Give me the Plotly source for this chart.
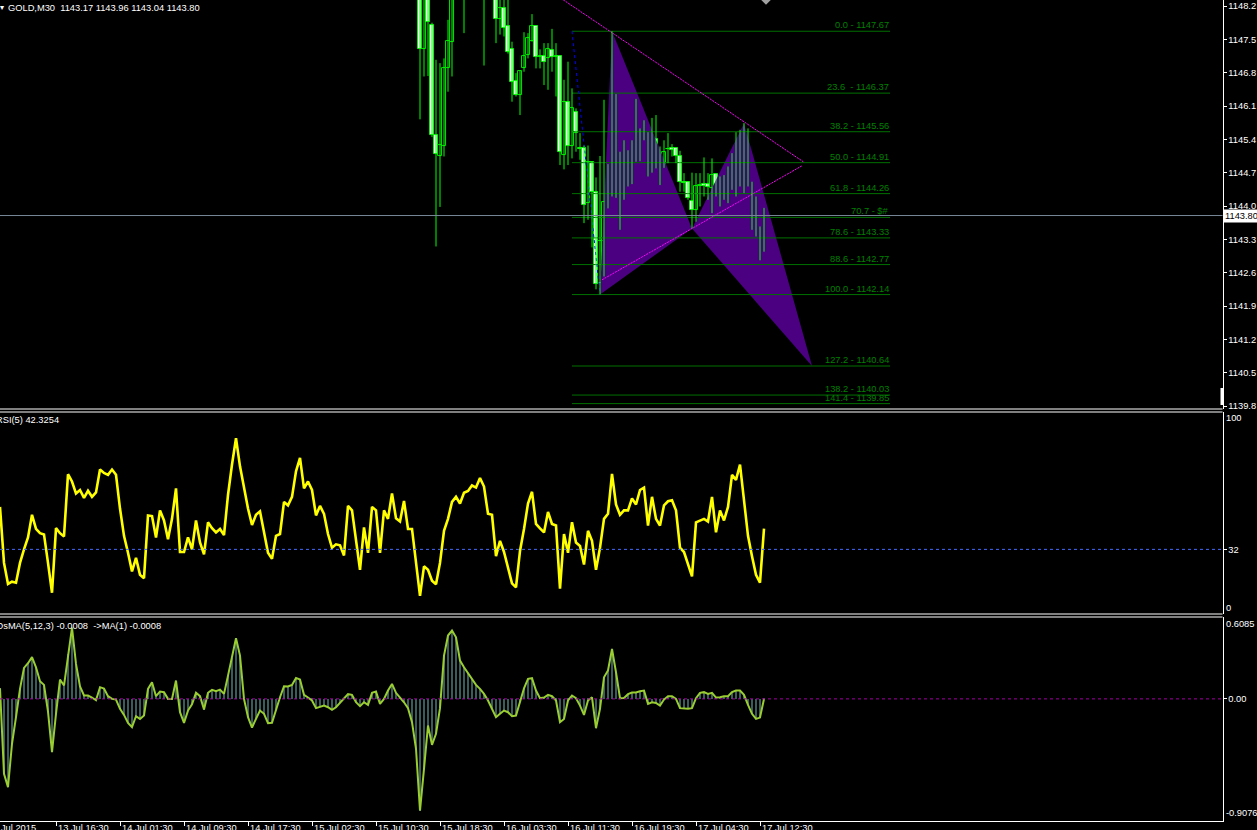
import plotly.graph_objects as go

# ---------------- data ----------------
bar_index = list(range(192))

candle_index = list(range(105, 192))
candle_open = [1148.60, 1147.29, 1148.50, 1147.80, 1145.49, 1145.04, 1145.25, 1146.89, 1147.45, 1148.40,
               1148.70, 1148.80, 1148.60, 1148.70, 1148.90, 1149.00, 1148.70, 1148.50, 1148.60, 1148.45,
               1147.92, 1148.15, 1147.77, 1147.29, 1146.63, 1146.34, 1146.89, 1147.17, 1147.47, 1147.77,
               1147.12, 1147.14, 1147.10, 1147.28, 1147.12, 1147.15, 1145.07, 1146.18, 1145.26, 1145.97,
               1145.21, 1145.21, 1144.06, 1144.93, 1144.30, 1142.38, 1143.27, 1144.09, 1144.37, 1146.16,
               1145.04, 1144.64, 1144.79, 1144.72, 1145.21, 1145.44, 1145.55, 1145.38, 1144.79, 1145.40,
               1144.83, 1144.85, 1145.19, 1145.21, 1145.21, 1145.05, 1144.51, 1144.51, 1144.11, 1143.92,
               1144.42, 1144.46, 1144.46, 1144.37, 1144.67, 1144.30, 1144.46, 1144.41, 1144.49, 1144.90,
               1144.86, 1145.14, 1144.72, 1144.46, 1143.76, 1143.34, 1143.17]
candle_high = [1148.80, 1148.70, 1148.70, 1147.85, 1147.07, 1147.00, 1147.10, 1147.91, 1148.60, 1148.90,
               1149.00, 1149.00, 1148.90, 1149.10, 1149.20, 1149.10, 1148.90, 1148.80, 1148.80, 1148.60,
               1148.40, 1148.40, 1148.40, 1147.45, 1146.79, 1146.84, 1147.65, 1147.63, 1148.03, 1147.77,
               1147.29, 1147.42, 1147.42, 1147.72, 1147.42, 1147.17, 1146.65, 1147.03, 1146.47, 1146.05,
               1145.53, 1145.27, 1145.27, 1144.94, 1144.60, 1145.05, 1146.23, 1144.88, 1147.67, 1146.35,
               1145.14, 1145.38, 1145.17, 1145.38, 1146.25, 1145.63, 1145.80, 1145.55, 1145.85, 1145.91,
               1145.25, 1145.38, 1145.53, 1145.30, 1145.21, 1145.16, 1144.69, 1144.51, 1144.70, 1144.69,
               1144.69, 1145.02, 1144.69, 1145.00, 1144.69, 1144.62, 1144.65, 1144.83, 1145.11, 1145.55,
               1145.60, 1145.74, 1145.63, 1144.51, 1144.20, 1143.57, 1143.96]
candle_low = [1145.82, 1146.72, 1146.73, 1145.45, 1143.15, 1143.98, 1145.04, 1146.40, 1146.72, 1148.35,
              1148.40, 1147.63, 1148.40, 1148.50, 1148.60, 1148.50, 1146.95, 1148.35, 1148.36, 1147.42,
              1147.60, 1147.56, 1147.20, 1146.19, 1146.30, 1145.91, 1146.82, 1147.10, 1147.45, 1146.89,
              1146.89, 1146.54, 1146.44, 1146.82, 1146.30, 1144.86, 1144.77, 1144.86, 1145.00, 1145.14,
              1144.97, 1143.64, 1143.71, 1143.13, 1142.25, 1142.14, 1142.52, 1143.95, 1144.20, 1144.17,
              1143.50, 1144.13, 1144.41, 1144.46, 1144.93, 1144.94, 1145.38, 1144.62, 1144.70, 1144.79,
              1144.44, 1144.80, 1144.90, 1145.04, 1144.90, 1144.30, 1144.30, 1144.13, 1143.53, 1143.67,
              1143.99, 1144.20, 1144.13, 1143.85, 1144.20, 1143.99, 1144.13, 1144.06, 1144.34, 1144.20,
              1144.41, 1144.27, 1144.41, 1143.50, 1143.36, 1142.86, 1143.04]
candle_close = [1147.29, 1148.50, 1147.87, 1145.50, 1145.09, 1145.28, 1146.89, 1147.46, 1148.40, 1148.70,
                1148.80, 1148.60, 1148.70, 1148.90, 1149.00, 1148.70, 1148.50, 1148.60, 1148.45, 1147.92,
                1148.15, 1147.73, 1147.24, 1146.61, 1146.34, 1146.84, 1147.16, 1147.52, 1147.77, 1147.12,
                1147.16, 1147.03, 1147.29, 1147.12, 1147.15, 1145.14, 1146.18, 1145.25, 1146.05, 1145.54,
                1145.19, 1144.02, 1144.92, 1144.29, 1142.36, 1143.27, 1144.09, 1144.18, 1146.14, 1145.07,
                1144.64, 1144.79, 1144.78, 1145.20, 1144.98, 1145.04, 1145.44, 1144.79, 1145.40, 1144.83,
                1144.79, 1145.14, 1145.20, 1145.18, 1145.05, 1144.51, 1144.48, 1144.16, 1143.92, 1144.42,
                1144.44, 1144.41, 1144.39, 1144.65, 1144.28, 1144.55, 1144.39, 1144.50, 1144.90, 1144.83,
                1145.18, 1144.72, 1144.46, 1143.85, 1143.39, 1143.13, 1143.80]

rsi_values = [53.0, 25.3, 14.9, 16.0, 15.5, 25.3, 32.0, 37.9, 49.1, 42.1,
              40.0, 39.4, 25.3, 10.5, 42.5, 40.0, 38.4, 69.2, 65.6, 59.7,
              61.4, 57.5, 61.0, 58.0, 60.2, 71.5, 69.8, 68.9, 71.5, 68.9,
              52.2, 38.7, 30.3, 21.1, 27.8, 19.4, 17.7, 48.8, 48.5, 37.9,
              51.3, 46.3, 37.0, 47.1, 62.2, 30.7, 30.7, 37.9, 32.0, 46.3,
              35.4, 29.5, 45.4, 42.5, 40.4, 42.1, 39.1, 58.9, 74.0, 87.0,
              73.1, 62.2, 52.2, 44.1, 49.1, 50.8, 41.2, 30.3, 27.3, 38.7,
              39.6, 55.5, 53.8, 58.0, 70.6, 77.3, 62.2, 65.6, 61.4, 48.8,
              53.5, 49.6, 39.6, 32.8, 34.5, 34.0, 29.0, 53.5, 51.3, 37.0,
              21.9, 42.9, 30.3, 53.0, 51.3, 30.3, 51.3, 47.1, 59.7, 47.4,
              45.8, 56.0, 42.1, 42.1, 25.3, 9.0, 23.6, 21.9, 16.5, 14.7,
              25.3, 41.2, 47.1, 55.5, 58.0, 54.7, 60.0, 60.9, 63.6, 62.6,
              67.3, 63.1, 49.6, 49.1, 28.6, 36.2, 30.7, 22.8, 15.2, 13.2,
              31.2, 42.1, 54.7, 60.5, 44.6, 42.4, 40.4, 50.5, 44.6, 43.8,
              12.5, 39.6, 30.3, 45.4, 35.4, 33.7, 24.5, 41.2, 36.2, 21.9,
              32.8, 47.1, 49.6, 69.4, 54.2, 49.1, 51.3, 51.3, 57.2, 54.2,
              61.4, 62.6, 43.8, 58.0, 47.1, 43.8, 53.8, 55.8, 56.3, 51.3,
              32.8, 30.7, 24.5, 18.6, 45.4, 46.3, 47.1, 45.8, 58.0, 40.4,
              51.3, 46.3, 53.0, 68.9, 66.4, 74.0, 57.2, 38.7, 28.6, 19.4,
              15.5, 42.3]

osma_values = [0.079, -0.557, -0.656, -0.334, -0.136, 0.074, 0.230, 0.265, 0.310, 0.235,
               0.131, 0.104, -0.094, -0.396, -0.111, 0.144, 0.099, 0.330, 0.530, 0.260,
               0.092, 0.025, 0.025, 0.010, -0.010, 0.087, 0.077, 0.020, 0.000, -0.005,
               -0.074, -0.119, -0.178, -0.210, -0.129, -0.149, -0.124, 0.074, 0.124, 0.020,
               0.054, 0.050, 0.000, 0.000, 0.136, -0.099, -0.178, -0.087, -0.040, 0.045,
               0.020, -0.079, 0.045, 0.067, 0.057, 0.069, 0.037, 0.173, 0.302, 0.450,
               0.322, 0.000, -0.136, -0.213, -0.149, -0.087, -0.111, -0.181, -0.178, -0.074,
               0.012, 0.094, 0.092, 0.104, 0.156, 0.144, 0.030, 0.010, -0.012, -0.069,
               -0.057, -0.050, -0.062, -0.082, -0.062, -0.030, 0.005, 0.035, 0.030, -0.025,
               -0.054, -0.025, -0.045, 0.045, 0.054, -0.037, 0.000, 0.062, 0.111, 0.045,
               0.010, -0.025, -0.069, -0.173, -0.371, -0.830, -0.520, -0.198, -0.342, -0.260,
               -0.069, 0.322, 0.471, 0.508, 0.458, 0.285, 0.235, 0.191, 0.149, 0.104,
               0.074, 0.037, -0.012, -0.069, -0.136, -0.111, -0.087, -0.099, -0.129, -0.124,
               -0.025, 0.079, 0.149, 0.154, 0.062, 0.005, 0.010, 0.030, 0.020, -0.012,
               -0.173, -0.149, -0.012, 0.025, 0.005, -0.050, -0.119, -0.012, 0.012, -0.218,
               -0.074, 0.161, 0.211, 0.371, 0.198, 0.005, 0.007, 0.035, 0.047, 0.047,
               0.057, 0.062, -0.037, -0.025, -0.030, -0.050, -0.005, 0.020, 0.020, 0.000,
               -0.069, -0.074, -0.074, -0.069, 0.005, 0.045, 0.050, 0.037, 0.045, 0.010,
               0.012, 0.020, 0.020, 0.050, 0.062, 0.062, 0.030, -0.045, -0.111, -0.149,
               -0.139, -0.001]

price_ticks = [1148.2, 1147.5, 1146.8, 1146.1, 1145.4, 1144.7, 1144.0,
               1143.3, 1142.6, 1141.9, 1141.2, 1140.5, 1139.8]
time_tick_index = [0, 14, 30, 46, 62, 78, 94, 110, 126, 142, 158, 174, 190]
time_tick_labels = ["13 Jul 2015", "13 Jul 16:30", "14 Jul 01:30", "14 Jul 09:30", "14 Jul 17:30",
                    "15 Jul 02:30", "15 Jul 10:30", "15 Jul 18:30", "16 Jul 03:30", "16 Jul 11:30",
                    "16 Jul 19:30", "17 Jul 04:30", "17 Jul 12:30"]

fib_ratio_labels = ["0.0", "23.6 ", "38.2", "50.0", "61.8", "70.7", "78.6", "88.6",
                    "100.0", "127.2", "138.2", "141.4"]
fib_prices = [1147.67, 1146.37, 1145.56, 1144.91, 1144.26, 1143.76, 1143.33, 1142.77,
              1142.14, 1140.64, 1140.03, 1139.85]
fib_price_text = ["1147.67", "1146.37", "1145.56", "1144.91", "1144.26", "$#", "1143.33", "1142.77",
                  "1142.14", "1140.64", "1140.03", "1139.85"]
fib_span = [143, 222.5]
fib_trend_x = [143, 150]
fib_trend_y = [1147.67, 1142.14]

pattern_x = [150, 153, 173, 186, 203]
pattern_y = [1142.14, 1147.67, 1143.53, 1145.74, 1140.64]

tri_upper_x = [140.8, 200.8]
tri_upper_y = [1148.33, 1144.93]
tri_lower_x = [150.5, 200.4]
tri_lower_y = [1142.45, 1144.84]

arrow_x = [191.5]
arrow_y = [1148.39]

bid_price = 1143.80
rsi_level = 32
ohlc_last = ["1143.17", "1143.96", "1143.04", "1143.80"]

# ---------------- layout helpers ----------------
W, H = 1257, 830
RIGHT = 1222.5
FONT = "Liberation Sans"
FS = 9.3


def py(pix):
    return 1 - pix / H


def px(pix):
    return pix / W


fig = go.Figure()

# harmonic pattern (two filled triangles)
fig.add_trace(go.Scatter(x=pattern_x[0:3] + [pattern_x[0]], y=pattern_y[0:3] + [pattern_y[0]],
                         fill="toself", fillcolor="#4B0082", mode="lines",
                         line=dict(width=0, color="#4B0082"), yaxis="y", showlegend=False))
fig.add_trace(go.Scatter(x=pattern_x[2:5] + [pattern_x[2]], y=pattern_y[2:5] + [pattern_y[2]],
                         fill="toself", fillcolor="#4B0082", mode="lines",
                         line=dict(width=0, color="#4B0082"), yaxis="y", showlegend=False))

# fibonacci levels
fx, fy = [], []
for p in fib_prices:
    fx += [fib_span[0], fib_span[1], None]
    fy += [p, p, None]
fig.add_trace(go.Scatter(x=fx, y=fy, mode="lines", line=dict(color="#007000", width=1),
                         yaxis="y", showlegend=False))
fig.add_trace(go.Scatter(x=fib_trend_x, y=fib_trend_y, mode="lines",
                         line=dict(color="#0000ff", width=1, dash="3px,3px"), yaxis="y", showlegend=False))

# triangle trendlines
fig.add_trace(go.Scatter(x=tri_upper_x, y=tri_upper_y, mode="lines",
                         line=dict(color="#ff00ff", width=1, dash="2px,1px"), yaxis="y", showlegend=False))
fig.add_trace(go.Scatter(x=tri_lower_x, y=tri_lower_y, mode="lines",
                         line=dict(color="#ff00ff", width=1, dash="2px,1px"), yaxis="y", showlegend=False))

# candles: wicks + bodies
wick_x, wick_y = [], []
for k, h, l in zip(candle_index, candle_high, candle_low):
    wick_x += [k, k, None]
    wick_y += [l, h, None]
fig.add_trace(go.Scatter(x=wick_x, y=wick_y, mode="lines", line=dict(color="#00ff00", width=1),
                         yaxis="y", showlegend=False))
body_base = [min(o, c) for o, c in zip(candle_open, candle_close)]
body_size = [max(abs(c - o), 0.012) for o, c in zip(candle_open, candle_close)]
body_fill = ["#000000" if c > o else "#ffffff" for o, c in zip(candle_open, candle_close)]
fig.add_trace(go.Bar(x=candle_index, y=body_size, base=body_base, width=0.78,
                     marker=dict(color=body_fill, line=dict(color="#00ff00", width=0.9)),
                     yaxis="y", showlegend=False))

fig.add_trace(go.Scatter(x=arrow_x, y=arrow_y, mode="markers",
                         marker=dict(symbol="diamond", size=12, color="#a0a0a0"),
                         yaxis="y", showlegend=False))

# RSI
fig.add_trace(go.Scatter(x=bar_index, y=rsi_values, mode="lines",
                         line=dict(color="#ffff00", width=2.6), yaxis="y2", showlegend=False))

# OsMA
fig.add_trace(go.Bar(x=bar_index, y=osma_values, width=0.45, marker=dict(color="#3a5c5c", line=dict(width=0)),
                     yaxis="y3", showlegend=False))
fig.add_trace(go.Scatter(x=bar_index, y=osma_values, mode="lines",
                         line=dict(color="#9acd32", width=2), yaxis="y3", showlegend=False))

axis_common = dict(showgrid=False, zeroline=False, showline=True, linecolor="#ffffff", linewidth=1,
                   side="right", anchor="x", ticks="outside", ticklen=3, tickcolor="#ffffff",
                   tickfont=dict(color="#ffffff", size=FS, family=FONT), automargin=False,
                   fixedrange=True)

shapes = []
for pix in [409, 412, 614, 617]:
    shapes.append(dict(type="line", xref="paper", yref="paper", x0=0, x1=px(RIGHT),
                       y0=py(pix), y1=py(pix), line=dict(color="#ffffff", width=1)))
shapes.append(dict(type="line", xref="paper", yref="y", x0=0, x1=px(RIGHT), y0=bid_price, y1=bid_price,
                   line=dict(color="#778899", width=1)))
shapes.append(dict(type="line", xref="paper", yref="y2", x0=0, x1=px(RIGHT), y0=rsi_level, y1=rsi_level,
                   line=dict(color="#4169ff", width=1, dash="3px,3px")))
shapes.append(dict(type="line", xref="paper", yref="y3", x0=0, x1=px(RIGHT), y0=0, y1=0,
                   line=dict(color="#a000a0", width=1, dash="3px,3px")))
shapes.append(dict(type="rect", xref="paper", yref="paper", x0=px(1220.5), x1=px(1224),
                   y0=py(405), y1=py(388), fillcolor="#ffffff", line=dict(width=0)))

ann = []
txt = dict(color="#ffffff", size=FS, family=FONT)
ann.append(dict(xref="paper", yref="paper", x=px(-2), y=py(1), xanchor="left", yanchor="top",
                text="▾", showarrow=False, font=dict(color="#ffffff", size=8, family="DejaVu Sans")))
ann.append(dict(xref="paper", yref="paper", x=px(6), y=py(1), xanchor="left", yanchor="top",
                text="GOLD,M30  " + " ".join(ohlc_last), showarrow=False, font=txt))
ann.append(dict(xref="paper", yref="paper", x=px(-6), y=py(413), xanchor="left", yanchor="top",
                text="RSI(5) 42.3254", showarrow=False, font=txt))
ann.append(dict(xref="paper", yref="paper", x=px(-6), y=py(619), xanchor="left", yanchor="top",
                text="OsMA(5,12,3) -0.0008  ->MA(1) -0.0008", showarrow=False, font=txt))
# indicator scale labels
for label, pix in [("100", 418), ("0", 608), ("0.6085", 624), ("-0.9076", 813)]:
    ann.append(dict(xref="paper", yref="paper", x=px(1223.5), y=py(pix), xanchor="left", yanchor="middle",
                    text=label, showarrow=False, font=txt))
# bid price box
ann.append(dict(xref="paper", yref="y", x=px(1223), y=bid_price, xanchor="left", yanchor="middle",
                text="1143.80", showarrow=False, bgcolor="#ffffff", borderpad=1,
                font=dict(color="#000000", size=FS, family=FONT)))
# fib labels
for r, p, t in zip(fib_ratio_labels, fib_prices, fib_price_text):
    ann.append(dict(xref="x", yref="y", x=fib_span[1], y=p, xanchor="right", yanchor="bottom",
                    text=f"{r} - {t}", showarrow=False, borderpad=0,
                    font=dict(color="#008000", size=FS, family=FONT)))
# time labels
for i, (k, lab) in enumerate(zip(time_tick_index, time_tick_labels)):
    ann.append(dict(xref="x", yref="paper", x=k, y=py(822), xanchor="left", yanchor="top",
                    xshift=(-13 if i == 0 else 1), text=lab, showarrow=False, font=txt, borderpad=0))

fig.update_layout(
    width=W, height=H, template="none",
    paper_bgcolor="#000000", plot_bgcolor="#000000",
    margin=dict(l=0, r=0, t=0, b=0),
    showlegend=False, hovermode=False, bargap=0, barmode="overlay",
    font=dict(family=FONT, color="#ffffff", size=FS),
    xaxis=dict(domain=[0, px(RIGHT)], range=[0, RIGHT / 4], anchor="y3",
               showgrid=False, zeroline=False, showline=True, linecolor="#ffffff", linewidth=1,
               ticks="outside", ticklen=4, tickcolor="#ffffff", tickvals=time_tick_index[1:],
               showticklabels=False, automargin=False, fixedrange=True),
    yaxis=dict(domain=[py(409), 1], range=[1139.737, 1148.326], tickvals=price_ticks,
               ticktext=[f"{v:.1f}" for v in price_ticks], **axis_common),
    yaxis2=dict(domain=[py(614), py(412)], range=[0, 100], tickvals=[rsi_level],
                ticktext=[str(rsi_level)], **axis_common),
    yaxis3=dict(domain=[py(821), py(617)], range=[-0.9076, 0.6085], tickvals=[0],
                ticktext=["0.00"], **axis_common),
    shapes=shapes, annotations=ann,
)

fig.write_html("out.html", config={"displayModeBar": False},
               post_script="document.body.style.margin='0';document.body.style.overflow='hidden';")
